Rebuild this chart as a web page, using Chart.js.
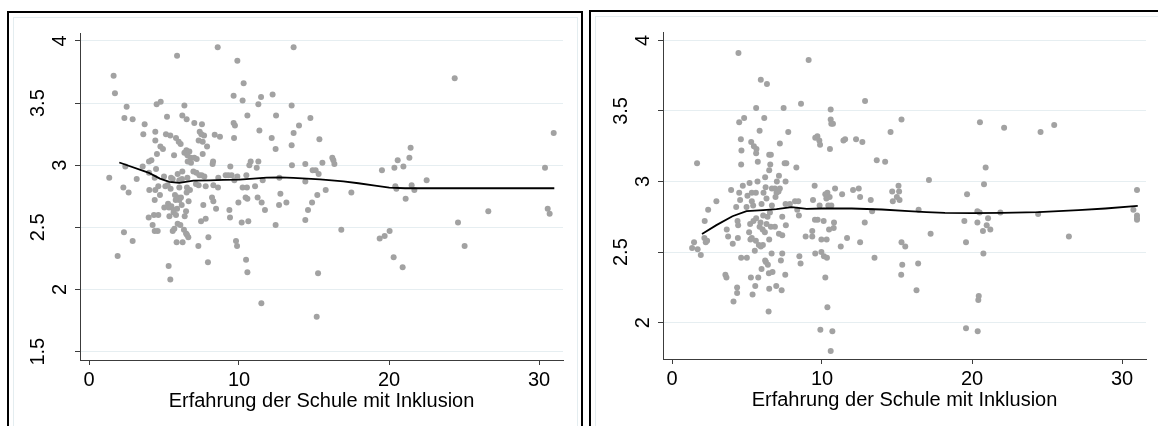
<!DOCTYPE html>
<html>
<head>
<meta charset="utf-8">
<script src="https://cdn.jsdelivr.net/npm/chart.js@4"></script>
<style>
  body { margin: 0; background: #fff; width: 1158px; height: 426px; overflow: hidden; position: relative; }
  .frame { position: absolute; border: 2px solid #000; box-sizing: border-box; }
  .inner { position: absolute; border: 1px solid #e4edf0; box-sizing: border-box; }
  .panel { position: absolute; }
</style>
</head>
<body>
<div class="frame" style="left:7px;top:11px;width:576px;height:440px"></div>
<div class="inner" style="left:13px;top:17px;width:565px;height:430px"></div>
<div class="frame" style="left:589px;top:10px;width:600px;height:440px"></div>
<div class="inner" style="left:595px;top:16px;width:600px;height:430px"></div>
<div class="panel" style="left:14px;top:18px;width:562px;height:408px"><canvas id="left"></canvas></div>
<div class="panel" style="left:596px;top:17px;width:562px;height:409px"><canvas id="right"></canvas></div>
<script>
// x axis title and ticks (same for both panels)
const xTitle = "Erfahrung der Schule mit Inklusion";
const xTicks = [0, 10, 20, 30];
const leftYTicks = [1.5, 2, 2.5, 3, 3.5, 4];
const rightYTicks = [2, 2.5, 3, 3.5, 4];

// left panel: scatter
const leftX = [8.58,13.64,5.87,9.89,1.64,10.31,1.73,12.24,9.64,11.47,10.24,4.78,4.51,11.29,13.51,6.36,2.51,6.22,10.56,5.2,
  12.47,2.36,2.91,6.51,14.76,3.71,7.02,7.53,9.64,9.73,14.0,11.36,4.42,3.62,5.13,5.42,7.38,7.49,7.67,8.38,
  8.73,9.67,13.64,12.18,15.36,5.8,5.98,6.11,4.42,7.31,7.58,7.87,12.44,13.51,4.76,4.93,6.49,6.69,5.67,4.53,
  6.36,6.56,6.78,7.02,7.18,7.58,4.16,4.0,6.58,6.8,8.27,8.24,11.29,10.78,10.69,11.18,13.53,14.42,15.56,3.58,
  2.42,4.47,9.42,1.35,3.18,4.0,4.38,5.0,5.47,5.91,6.22,5.58,6.96,7.16,7.36,7.51,7.69,6.02,6.2,6.56,
  8.62,9.11,9.29,9.51,9.89,10.49,11.58,9.69,12.69,14.91,15.11,15.31,14.42,2.29,2.64,4.02,4.42,4.62,5.09,5.24,
  5.44,6.02,6.53,6.73,7.13,7.31,7.78,8.29,8.6,10.24,10.53,11.07,4.73,4.38,5.73,5.93,6.13,6.51,6.02,6.64,
  5.78,5.27,5.33,5.49,5.64,5.02,5.87,6.18,8.2,8.29,7.62,8.47,9.96,10.44,10.56,11.24,11.51,11.73,12.76,12.67,
  13.16,15.22,15.78,14.87,14.6,9.36,9.4,10.18,10.62,14.42,12.44,3.98,4.33,4.62,4.24,5.36,5.64,5.8,6.47,6.38,
  7.47,7.78,4.38,4.58,5.58,5.69,5.91,6.09,6.33,6.47,6.62,6.53,2.33,2.91,5.84,6.24,7.29,7.96,9.8,9.87,
  1.91,10.47,7.93,5.31,5.42,10.56,15.27,11.49,15.18,
  24.38,30.98,21.44,16.22,16.29,16.36,20.58,21.36,19.53,20.36,20.96,30.4,22.51,20.42,20.49,21.51,21.69,17.49,21.11,26.62,
  30.58,30.71,24.6,16.82,19.38,19.71,20.04,25.04,20.31,20.91];
const leftY = [3.95,3.95,3.88,3.84,3.72,3.66,3.58,3.57,3.56,3.55,3.52,3.51,3.49,3.49,3.48,3.48,3.47,3.40,3.40,3.39,
  3.40,3.38,3.37,3.37,3.38,3.33,3.34,3.33,3.34,3.32,3.32,3.28,3.27,3.25,3.25,3.24,3.27,3.25,3.24,3.245,
  3.23,3.22,3.26,3.22,3.21,3.22,3.19,3.17,3.20,3.20,3.19,3.15,3.13,3.16,3.15,3.13,3.12,3.11,3.08,3.09,
  3.10,3.08,3.06,3.06,3.05,3.09,3.04,3.03,3.03,3.02,3.03,3.01,3.03,3.03,3.0,2.98,3.0,3.01,3.02,2.99,
  2.99,2.97,2.99,2.90,2.89,2.94,2.90,2.91,2.90,2.93,2.95,2.89,2.95,2.94,2.92,2.92,2.91,2.88,2.89,2.90,
  2.90,2.92,2.92,2.92,2.91,2.92,2.88,2.88,2.90,2.96,2.96,2.93,2.87,2.82,2.78,2.80,2.80,2.83,2.83,2.84,
  2.81,2.82,2.82,2.80,2.85,2.84,2.83,2.84,2.82,2.82,2.82,2.83,2.76,2.72,2.76,2.74,2.74,2.78,2.72,2.71,
  2.72,2.69,2.66,2.67,2.64,2.66,2.65,2.68,2.74,2.71,2.68,2.65,2.70,2.74,2.73,2.74,2.70,2.64,2.77,2.68,
  2.70,2.76,2.80,2.70,2.64,2.64,2.58,2.54,2.55,2.56,2.52,2.58,2.60,2.60,2.52,2.59,2.62,2.60,2.63,2.59,
  2.55,2.57,2.47,2.47,2.47,2.49,2.53,2.52,2.48,2.45,2.42,2.44,2.46,2.39,2.38,2.38,2.35,2.42,2.39,2.35,
  2.27,2.24,2.22,2.19,2.08,2.14,2.13,1.89,1.78,
  3.70,3.26,3.14,3.06,3.04,3.01,3.04,3.06,2.96,2.98,2.99,2.98,2.88,2.83,2.81,2.84,2.80,2.78,2.73,2.63,
  2.65,2.61,2.54,2.48,2.41,2.43,2.47,2.35,2.26,2.18];
// left panel: lowess fit
const leftFitX = [2.02, 4.0, 4.73, 5.36, 6.02, 6.96, 8.02, 8.96, 10.02, 10.96, 11.84, 12.73, 13.62, 14.51, 15.4, 16.96, 17.96, 19.07, 20.02, 21.07, 31.02];
const leftFitY = [3.022, 2.938, 2.892, 2.866, 2.858, 2.876, 2.879, 2.882, 2.884, 2.892, 2.901, 2.903, 2.898, 2.892, 2.887, 2.871, 2.855, 2.836, 2.820, 2.815, 2.815];

// right panel: scatter
const rightX = [4.43,9.11,5.92,6.33,12.87,8.60,5.61,7.44,10.58,4.81,4.48,6.15,10.58,10.62,10.73,15.30,5.84,7.75,14.57,4.59,
  5.28,5.46,5.63,7.19,9.55,9.69,9.82,9.87,11.43,11.54,12.27,12.69,10.53,4.63,5.61,6.48,6.59,1.67,4.61,5.72,
  6.55,6.48,7.51,7.62,8.29,13.65,14.21,7.13,6.99,7.57,6.21,5.17,4.72,3.94,5.70,4.48,4.54,5.03,5.32,5.59,
  6.10,6.24,6.66,6.86,6.97,7.10,7.19,9.51,10.22,10.36,10.51,10.87,11.34,12.07,12.45,12.54,13.25,14.68,15.10,15.14,
  14.72,14.99,15.17,2.96,2.41,4.28,4.97,5.32,5.41,5.97,6.30,6.66,6.90,7.57,7.86,8.20,8.42,8.35,8.46,9.40,
  9.84,10.29,10.42,10.62,13.34,2.18,3.65,4.05,4.37,4.41,3.74,4.39,5.21,5.43,5.61,5.84,5.90,6.08,6.30,6.37,
  6.53,6.59,6.86,7.35,7.59,7.13,7.35,6.48,6.04,5.14,5.32,5.59,5.23,5.79,5.92,5.52,6.06,6.19,6.64,7.35,
  7.26,6.70,6.21,6.26,6.39,6.46,5.97,5.75,5.26,4.61,4.99,7.55,3.56,3.63,4.34,4.34,4.10,5.55,5.37,6.48,
  6.95,7.31,6.44,8.91,9.35,9.35,9.53,9.71,10.11,9.96,10.31,10.47,10.78,10.80,11.67,11.25,12.54,12.85,13.50,9.55,
  9.96,10.13,10.33,10.22,8.49,8.57,1.47,1.34,1.71,1.92,2.16,2.25,2.34,15.30,15.55,15.35,15.28,10.36,9.89,10.69,
  10.58,
  20.53,22.14,24.57,25.48,20.91,17.13,20.80,19.67,31.0,16.44,20.36,20.51,21.89,24.41,30.76,31.0,31.0,31.0,19.49,20.36,
  21.07,20.98,20.73,21.22,17.24,26.46,19.6,20.76,16.41,16.30,20.45,20.42,19.6,20.38];
const rightY = [3.91,3.86,3.72,3.69,3.57,3.55,3.52,3.52,3.51,3.45,3.42,3.45,3.44,3.41,3.41,3.44,3.36,3.35,3.35,3.30,
  3.28,3.25,3.23,3.27,3.31,3.32,3.29,3.26,3.29,3.30,3.30,3.28,3.23,3.22,3.20,3.19,3.19,3.13,3.12,3.14,
  3.12,3.08,3.13,3.13,3.10,3.15,3.14,3.04,3.00,3.00,3.03,2.99,2.97,2.94,3.00,2.92,2.87,2.90,2.92,2.92,
  2.92,2.96,2.95,2.95,2.92,2.93,2.95,2.97,2.91,2.92,2.89,2.95,2.91,2.94,2.95,2.89,2.87,2.93,2.97,2.93,
  2.86,2.89,2.87,2.86,2.80,2.82,2.82,2.86,2.83,2.84,2.88,2.83,2.89,2.84,2.84,2.86,2.86,2.80,2.76,2.87,
  2.83,2.88,2.83,2.83,2.79,2.72,2.66,2.56,2.72,2.69,2.61,2.60,2.70,2.72,2.74,2.68,2.71,2.76,2.70,2.75,
  2.78,2.68,2.68,2.75,2.69,2.63,2.62,2.59,2.66,2.64,2.60,2.58,2.59,2.55,2.54,2.51,2.55,2.64,2.49,2.49,
  2.44,2.36,2.44,2.43,2.41,2.35,2.38,2.32,2.32,2.46,2.46,2.34,2.34,2.32,2.25,2.21,2.15,2.26,2.20,2.24,
  2.26,2.23,2.08,2.61,2.61,2.65,2.73,2.73,2.72,2.59,2.59,2.66,2.67,2.71,2.60,2.54,2.57,2.71,2.46,2.49,
  2.50,2.47,2.46,2.32,2.47,2.42,2.57,2.53,2.52,2.48,2.60,2.57,2.58,2.57,2.54,2.41,2.34,2.11,1.95,1.94,
  1.80,
  3.42,3.38,3.35,3.40,3.10,3.01,2.98,2.91,2.94,2.80,2.79,2.78,2.78,2.77,2.80,2.76,2.74,2.73,2.72,2.71,
  2.74,2.69,2.65,2.66,2.63,2.61,2.57,2.49,2.42,2.23,2.19,2.16,1.96,1.94];
// right panel: lowess fit
const rightFitX = [2.0, 2.96, 4.03, 4.97, 6.08, 6.97, 7.97, 8.98, 9.98, 11.98, 13.99, 15.77, 16.97, 18.2, 20.0, 21.98, 24.43, 27.1, 28.89, 31.05];
const rightFitY = [2.629, 2.691, 2.754, 2.790, 2.797, 2.804, 2.818, 2.806, 2.809, 2.809, 2.802, 2.790, 2.783, 2.778, 2.776, 2.778, 2.783, 2.797, 2.809, 2.828];

const FONT = 'Liberation Sans';
const DOT = '#a2a2a2';
const AXIS = '#3c3c3c';
const GRID = '#e6eef1';

// Stata-style vertical y labels
const vertLabels = {
  id: 'vertLabels',
  afterDraw(chart) {
    const ctx = chart.ctx;
    const sy = chart.scales.y;
    ctx.save();
    ctx.font = '20px "' + FONT + '"';
    ctx.fillStyle = '#000';
    ctx.textAlign = 'center';
    ctx.textBaseline = 'middle';
    sy.ticks.forEach(t => {
      const label = String(t.value);
      const w = ctx.measureText(label).width;
      const px = sy.right - 4 - 1.35 * w;
      const py = sy.getPixelForValue(t.value);
      ctx.save();
      ctx.translate(px, py);
      ctx.rotate(-Math.PI / 2);
      ctx.fillText(label, 0, 0);
      ctx.restore();
    });
    ctx.restore();
  }
};

function makeChart(id, xs, ys, fx, fy, yTicks, yMin, yMax, lay) {
  const pts = xs.map((x, i) => ({ x: x, y: ys[i] }));
  const fit = fx.map((x, i) => ({ x: x, y: fy[i] }));
  return new Chart(document.getElementById(id), {
    type: 'scatter',
    data: {
      datasets: [
        { type: 'line', data: fit, borderColor: '#000', borderWidth: 1.8, pointRadius: 0, fill: false, tension: 0 },
        { data: pts, pointRadius: 3, pointHoverRadius: 3, backgroundColor: DOT, borderWidth: 0 }
      ]
    },
    options: {
      responsive: true,
      maintainAspectRatio: false,
      animation: false,
      events: [],
      layout: { padding: { top: lay.top, right: lay.right, left: 0, bottom: 0 } },
      plugins: { legend: { display: false }, tooltip: { enabled: false } },
      scales: {
        x: {
          type: 'linear', min: -0.6, max: 31.6,
          afterBuildTicks: s => { s.ticks = xTicks.map(v => ({ value: v })); },
          afterFit: s => { s.height = lay.xh; },
          grid: { drawOnChartArea: false, tickLength: 5, tickColor: AXIS },
          border: { color: AXIS, width: 1 },
          ticks: { color: '#000', font: { family: FONT, size: 20 }, padding: 3, maxRotation: 0, autoSkip: false, callback: v => String(v) },
          title: { display: true, text: xTitle, color: '#000', font: { family: FONT, size: 20 }, padding: { top: 0, bottom: lay.tb } }
        },
        y: {
          type: 'linear', min: yMin, max: yMax,
          afterBuildTicks: s => { s.ticks = yTicks.map(v => ({ value: v })); },
          afterFit: s => { s.width = lay.yw; },
          grid: { color: GRID, tickLength: 5, tickColor: AXIS },
          border: { color: AXIS, width: 1 },
          ticks: { display: false }
        }
      }
    },
    plugins: [vertLabels]
  });
}

makeChart('left', leftX, leftY, leftFitX, leftFitY, leftYTicks, 1.433, 4.064,
  { top: 15, right: 13, xh: 66, yw: 66, tb: 13 });
makeChart('right', rightX, rightY, rightFitX, rightFitY, rightYTicks, 1.743, 4.059,
  { top: 15, right: 12, xh: 67, yw: 67, tb: 14 });
</script>
</body>
</html>
